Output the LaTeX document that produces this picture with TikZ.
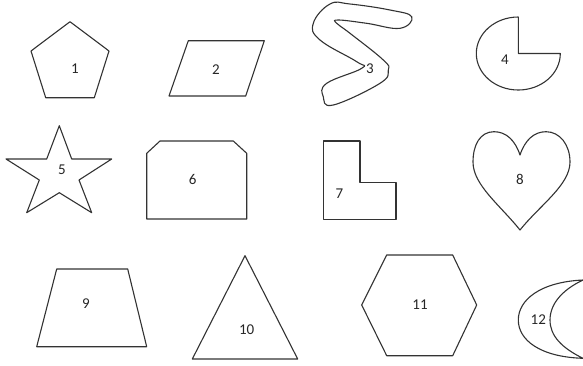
\documentclass[tikz,border=0pt]{standalone}
\usepackage{fontspec}
\setmainfont{Carlito}
\usetikzlibrary{calc}

\begin{document}
\begin{tikzpicture}[
    x=1pt, y=-1pt,
    outline/.style={draw=black!80, line width=1.1pt, line join=round},
    num/.style={font=\fontsize{15}{17}\selectfont, inner sep=0pt, text=black!85}
  ]
  \useasboundingbox (0,0) rectangle (583,365);

  % Row 1
  \draw[outline] (70,21.7) -- (109,51) -- (94.3,97.7) -- (45.7,97.7)
    -- (31,51) -- cycle;
  \node[num] (n1) at (75,68.3) {1};

  \draw[outline] (188.3,40.7) -- (264.3,40.7) -- (245.7,96) -- (169,96)
    -- cycle;
  \node[num] (n2) at (216,69.3) {2};

  \draw[outline] plot[smooth cycle, tension=0.7] coordinates {
    (330,4) (313.3,23.3) (320,40) (356.7,61.7) (361.7,68.3) (326.7,83.3)
    (323.3,96.7) (333.3,105) (380,83.3) (388.3,70) (383.3,60) (350,33.3)
    (336.7,23.3) (338.3,20) (366.7,23.3) (400,28.3) (411.7,16.7)
    (390,10) (350,4)};
  \node[num] (n3) at (370,68.3) {3};

  \coordinate (pc) at (518.3,53.5);
  \draw[outline] (pc) -- ++(0,-36.5)
    arc[start angle=270, end angle=0, x radius=42, y radius=36.5] -- cycle;
  \node[num] (n4) at (505,59.3) {4};

  % Row 2
  \draw[outline] (59.3,125.7) -- (71.7,159) -- (111.7,159) -- (79,180)
    -- (91.7,212.7) -- (59.3,192.7) -- (26.7,212.7) -- (39.3,180)
    -- (6,159) -- (46.7,159) -- cycle;
  \node[num] (n5) at (62,169.3) {5};

  \draw[outline] (146.7,153.3) -- (160,141) -- (233.3,141) -- (246.7,153.3)
    -- (246.7,219) -- (146.7,219) -- cycle;
  \node[num] (n6) at (192.7,179.3) {6};

  \draw[outline] (323.3,141) -- (360,141) -- (360,182.7) -- (396,182.7)
    -- (396,219.3) -- (323.3,219.3) -- cycle;
  \node[num] (n7) at (339.3,193.3) {7};

  \draw[outline] (520,155) .. controls (515,140) and (506,131.7) .. (494,131.7)
    .. controls (480,131.7) and (473,145) .. (473,162)
    .. controls (473,185) and (500,205) .. (520,230)
    .. controls (540,205) and (570,185) .. (570,162)
    .. controls (570,145) and (560,131.7) .. (546,131.7)
    .. controls (534,131.7) and (525,140) .. (520,155) -- cycle;
  \node[num] (n8) at (520,179.3) {8};

  % Row 3
  \draw[outline] (56.7,269) -- (127.7,269) -- (146.7,346.7) -- (36.7,346.7)
    -- cycle;
  \node[num] (n9) at (86,303.3) {9};

  \draw[outline] (245,255.7) -- (297.7,359) -- (192.3,359) -- cycle;
  \node[num] (n10) at (246.7,330) {10};

  \draw[outline] (386.7,255) -- (452.7,255) -- (476.7,305) -- (452.7,355.7)
    -- (386.7,355.7) -- (361.7,305) -- cycle;
  \node[num] (n11) at (420,305) {11};

  \draw[outline] (583,280) .. controls (540,282) and (518.3,300) .. (518.3,320)
    .. controls (518.3,340) and (540,357) .. (583,358.3)
    .. controls (562,348) and (550,336) .. (550,320)
    .. controls (550,304) and (562,290) .. (583,280);
  \node[num] (n12) at (538.3,320) {12};
\end{tikzpicture}
\end{document}
